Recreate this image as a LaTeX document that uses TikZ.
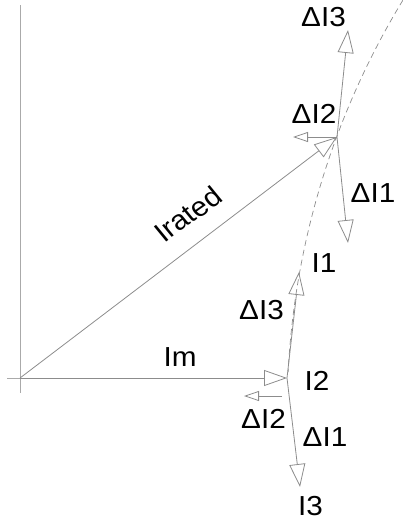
\documentclass[tikz,border=0pt]{standalone}
\usepackage{fontspec}
\setmainfont{Liberation Sans}
\usetikzlibrary{arrows.meta}
\definecolor{LineGray}{RGB}{140,140,140}
\definecolor{AxisGray}{RGB}{170,170,170}
\tikzset{
  vec/.style={-{Triangle[open,length=23pt,width=16pt]},line width=0.8pt,draw=LineGray},
  dvec/.style={-{Triangle[open,length=15pt,width=10pt]},line width=0.8pt,draw=LineGray},
  axis/.style={line width=1pt,draw=AxisGray},
  locus/.style={line width=0.7pt,draw=LineGray,dash pattern=on 6pt off 4pt},
  lbl/.style={font=\fontsize{27.5}{32}\selectfont,inner sep=0pt,text=black,xscale=1.08}
}

\begin{document}
\begin{tikzpicture}[x=1pt,y=-1pt]
  \useasboundingbox (0,0) rectangle (403,525);
  \coordinate (O) at (20,378);
  \coordinate (axtop) at (20,5);
  \coordinate (axbot) at (20,393);
  \coordinate (axleft) at (7,378);
  \coordinate (Pr) at (337,137);
  \coordinate (P2) at (287,378);
  \coordinate (d3a) at (348,30);
  \coordinate (d1a) at (348,243);
  \coordinate (d2a) at (293,137);
  \coordinate (d3b) at (299,272);
  \coordinate (d1b) at (300,487);
  \coordinate (d2s) at (282,396);
  \coordinate (d2b) at (244,396);
  \coordinate (loctop) at (403,0);
  \draw[axis] (axtop)--(axbot);
  \draw[axis] (axleft)--(O);
  \draw[locus] (loctop) arc[start angle=211.35,end angle=182.96,radius=794];
  \draw[vec] (O)--(Pr);
  \draw[vec] (O)--(P2);
  \draw[vec] (Pr)--(d3a);
  \draw[vec] (Pr)--(d1a);
  \draw[dvec] (Pr)--(d2a);
  \draw[vec] (P2)--(d3b);
  \draw[vec] (P2)--(d1b);
  \draw[dvec] (d2s)--(d2b);
  \node[lbl,rotate=37.2] (lrated) at (188,214) {Irated};
  \node[lbl] (lm) at (180,357) {Im};
  \node[lbl] (ld3a) at (323.5,17.5) {ΔI3};
  \node[lbl] (ld2a) at (314,113.5) {ΔI2};
  \node[lbl] (ld1a) at (373,193.5) {ΔI1};
  \node[lbl] (l1) at (324,263) {I1};
  \node[lbl] (ld3b) at (261.5,310) {ΔI3};
  \node[lbl] (l2) at (317,381) {I2};
  \node[lbl] (ld2b) at (263.5,419) {ΔI2};
  \node[lbl] (ld1b) at (325,437.5) {ΔI1};
  \node[lbl] (l3) at (310.5,506) {I3};
\end{tikzpicture}
\end{document}
